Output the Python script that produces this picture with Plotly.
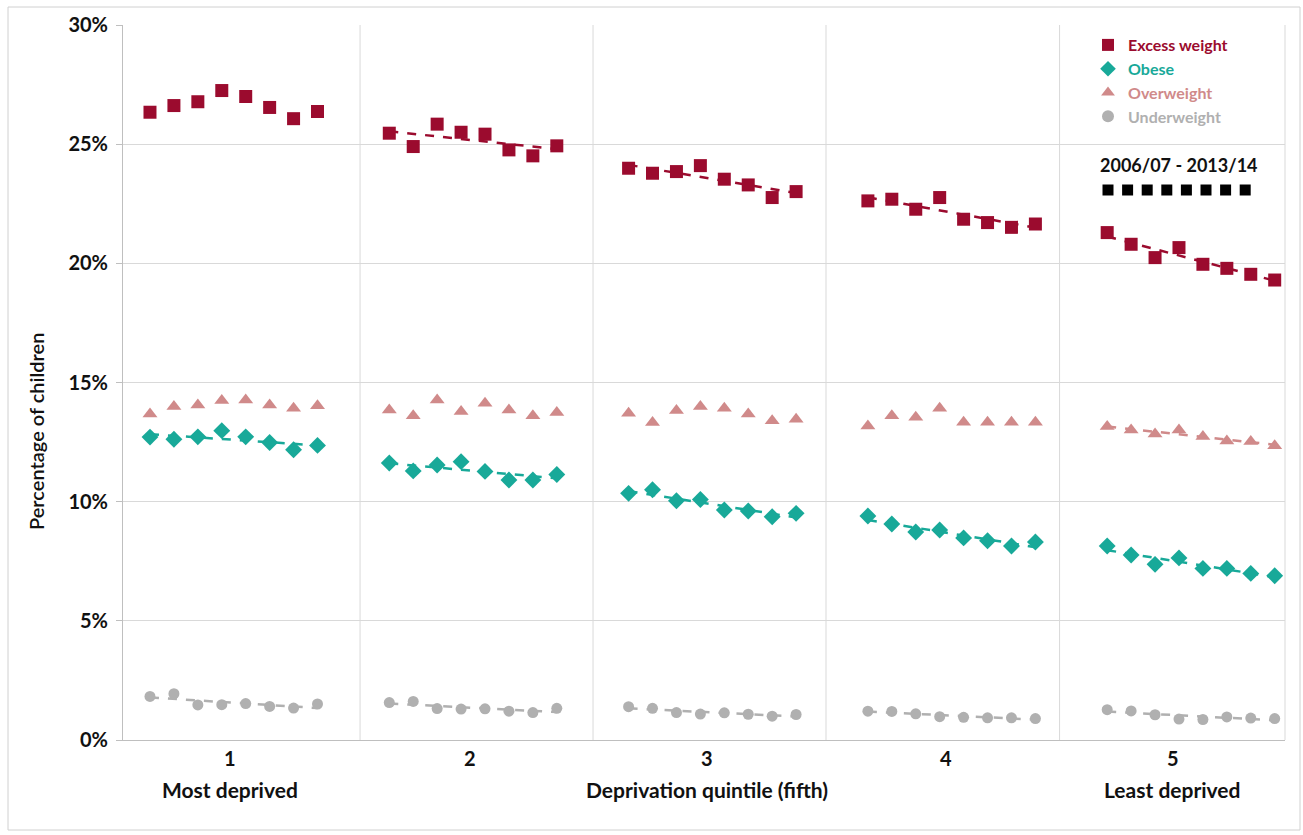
import numpy as np
import plotly.graph_objects as go

# ---------------- data ----------------
quintiles = ["1", "2", "3", "4", "5"]
quintile_notes = ["Most deprived", "", "Deprivation quintile (fifth)", "", "Least deprived"]
years = ["2006/07", "2007/08", "2008/09", "2009/10", "2010/11", "2011/12", "2012/13", "2013/14"]

excess_weight = [
    [26.34, 26.62, 26.78, 27.25, 27.00, 26.54, 26.07, 26.37],
    [25.46, 24.90, 25.84, 25.50, 25.42, 24.76, 24.51, 24.93],
    [23.99, 23.78, 23.85, 24.10, 23.53, 23.29, 22.76, 23.01],
    [22.62, 22.69, 22.27, 22.76, 21.85, 21.71, 21.51, 21.65],
    [21.29, 20.80, 20.24, 20.66, 19.96, 19.79, 19.54, 19.30],
]
obese = [
    [12.71, 12.62, 12.72, 12.98, 12.72, 12.48, 12.18, 12.36],
    [11.62, 11.29, 11.54, 11.68, 11.27, 10.91, 10.91, 11.14],
    [10.35, 10.50, 10.04, 10.09, 9.65, 9.61, 9.37, 9.51],
    [9.40, 9.06, 8.73, 8.81, 8.48, 8.36, 8.14, 8.31],
    [8.14, 7.76, 7.37, 7.64, 7.20, 7.20, 6.99, 6.89],
]
overweight = [
    [13.68, 13.99, 14.06, 14.24, 14.27, 14.06, 13.92, 14.02],
    [13.85, 13.60, 14.27, 13.78, 14.13, 13.85, 13.60, 13.74],
    [13.71, 13.32, 13.82, 13.99, 13.92, 13.68, 13.39, 13.46],
    [13.18, 13.61, 13.54, 13.92, 13.33, 13.33, 13.33, 13.33],
    [13.15, 13.01, 12.84, 13.01, 12.73, 12.55, 12.52, 12.35],
]
underweight = [
    [1.83, 1.94, 1.47, 1.48, 1.53, 1.41, 1.34, 1.51],
    [1.57, 1.62, 1.32, 1.30, 1.31, 1.21, 1.15, 1.33],
    [1.40, 1.33, 1.15, 1.09, 1.14, 1.08, 1.00, 1.07],
    [1.21, 1.20, 1.10, 0.98, 0.95, 0.93, 0.93, 0.90],
    [1.27, 1.22, 1.06, 0.88, 0.86, 0.97, 0.92, 0.90],
]
# which quintiles show a (significant) linear trend line
trend_excess = [False, True, True, True, True]
trend_obese = [True, True, True, True, True]
trend_overweight = [False, False, False, False, True]
trend_underweight = [True, True, True, True, True]

# ---------------- styling ----------------
FONT = "Lato"
series = [
    ("Excess weight", excess_weight, trend_excess, "#9B0B2E", "square", 13),
    ("Obese", obese, trend_obese, "#18A999", "diamond", 13),
    ("Overweight", overweight, trend_overweight, "#D08A8A", "triangle-up", 13),
    ("Underweight", underweight, trend_underweight, "#B0B0B0", "circle", 11),
]

W, H = 1303, 835
ML, MR, MT, MB = 123, 18, 25, 95
PW, PH = W - ML - MR, H - MT - MB


def px_to_paper_x(px):
    return (px - ML) / PW


def px_to_paper_y(py):
    return (H - MB - py) / PH


n_years = len(years)
gap = 10  # positions per quintile block


def xpos(g, j):
    return g * gap + j + 1


fig = go.Figure()

for name, data, trend, color, symbol, size in series:
    xs, ys = [], []
    for g, vals in enumerate(data):
        for j, v in enumerate(vals):
            xs.append(xpos(g, j))
            ys.append(v)
    # trend lines
    tx, ty = [], []
    for g, vals in enumerate(data):
        if not trend[g]:
            continue
        xx = np.array([xpos(g, j) for j in range(n_years)], dtype=float)
        yy = np.array(vals, dtype=float)
        m, b = np.polyfit(xx, yy, 1)
        tx += [xx[0], xx[-1], None]
        ty += [m * xx[0] + b, m * xx[-1] + b, None]
    fig.add_trace(go.Scatter(
        x=tx, y=ty, mode="lines", showlegend=False, hoverinfo="skip",
        line=dict(color=color, width=2.5, dash="dash"),
    ))
    fig.add_trace(go.Scatter(
        x=xs, y=ys, mode="markers",
        name=f"<span style='color:{color}'><b>{name}</b></span>",
        marker=dict(symbol=symbol, size=size, color=color, line=dict(width=0)),
    ))

# vertical gridlines separating quintiles
shapes = []
grid_fracs = [0.204, 0.4045, 0.605, 0.806, 1.0]
for f in grid_fracs:
    shapes.append(dict(type="line", xref="x domain", yref="y domain",
                       x0=f, x1=f, y0=0, y1=1,
                       line=dict(color="#D9D9D9", width=1), layer="below"))

# outer chart border
shapes.append(dict(type="rect", xref="paper", yref="paper",
                   x0=px_to_paper_x(8), x1=px_to_paper_x(1300),
                   y0=px_to_paper_y(830), y1=px_to_paper_y(7),
                   line=dict(color="#D0D0D0", width=1), layer="below"))

# key: 8 black squares = 8 years
key_x0, key_dx, key_y, key_s = 1108, 19.6, 190, 11
for j in range(n_years):
    cx = key_x0 + j * key_dx
    shapes.append(dict(type="rect", xref="paper", yref="paper",
                       x0=px_to_paper_x(cx - key_s / 2), x1=px_to_paper_x(cx + key_s / 2),
                       y0=px_to_paper_y(key_y + key_s / 2), y1=px_to_paper_y(key_y - key_s / 2),
                       fillcolor="black", line=dict(width=0)))

annotations = []
label_centers = [0.0925, 0.2985, 0.5025, 0.7085, 0.9035]
for i, q in enumerate(quintiles):
    cx = label_centers[i]
    annotations.append(dict(text=f"<b>{q}</b>", xref="x domain", yref="paper",
                            x=cx, y=px_to_paper_y(758), showarrow=False,
                            font=dict(family=FONT, size=20, color="#111111"),
                            xanchor="center", yanchor="middle"))
    if quintile_notes[i]:
        annotations.append(dict(text=f"<b>{quintile_notes[i]}</b>", xref="x domain", yref="paper",
                                x=cx, y=px_to_paper_y(789), showarrow=False,
                                font=dict(family=FONT, size=21, color="#111111"),
                                xanchor="center", yanchor="middle"))

annotations.append(dict(text=f"<b>{years[0]} - {years[-1]}</b>", xref="paper", yref="paper",
                        x=px_to_paper_x(1179), y=px_to_paper_y(165), showarrow=False,
                        font=dict(family=FONT, size=18, color="#111111"),
                        xanchor="center", yanchor="middle"))

# y-axis title (placed as in the reference, slightly below the plot middle)
annotations.append(dict(text="Percentage of children", xref="paper", yref="paper",
                        x=px_to_paper_x(36), y=px_to_paper_y(432), showarrow=False,
                        textangle=-90, xanchor="center", yanchor="middle",
                        font=dict(family=FONT, size=20, color="#111111", weight=600)))

fig.update_layout(
    width=W, height=H,
    margin=dict(l=ML, r=MR, t=MT, b=MB),
    paper_bgcolor="white", plot_bgcolor="white",
    font=dict(family=FONT, color="#262626"),
    showlegend=True,
    legend=dict(x=px_to_paper_x(1088), y=px_to_paper_y(28), xanchor="left", yanchor="top",
                bgcolor="rgba(255,255,255,0)", font=dict(family=FONT, size=16),
                tracegroupgap=0, itemsizing="constant"),
    shapes=shapes,
    annotations=annotations,
    xaxis=dict(range=[-0.128, -0.128 + PW / 23.93], showgrid=False, zeroline=False,
               showticklabels=False, ticks="", showline=True, linecolor="#BFBFBF",
               linewidth=1, fixedrange=True),
    yaxis=dict(range=[0, 30], dtick=5, ticksuffix="%", showgrid=True, gridcolor="#D9D9D9",
               gridwidth=1, zeroline=False, showline=True, linecolor="#BFBFBF", linewidth=1,
               ticks="outside", ticklen=6, tickcolor="#BFBFBF", ticklabelstandoff=4,
               tickfont=dict(family=FONT, size=20, color="#111111", weight="bold"),
               fixedrange=True),
)

fig.write_html("out.html")
